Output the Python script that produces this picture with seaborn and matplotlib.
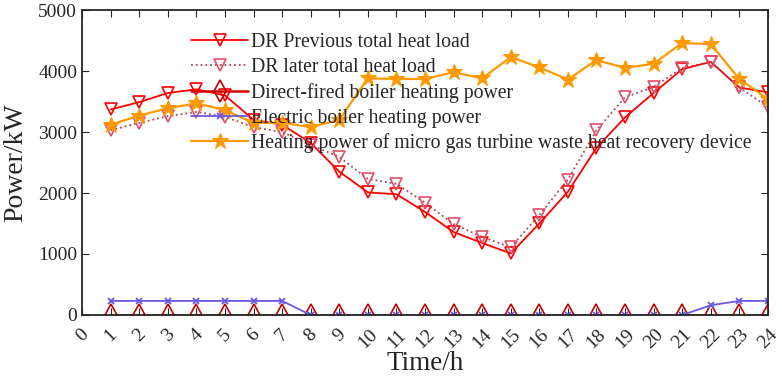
import numpy as np
import pandas as pd
import matplotlib
matplotlib.use("Agg")
import matplotlib.pyplot as plt
import seaborn as sns

# hourly values
hours = list(range(1, 25))
dr_previous = [3370, 3490, 3640, 3700, 3600, 3200, 3120, 2820, 2350, 2010, 1980, 1690,
               1360, 1180, 1010, 1500, 2020, 2740, 3240, 3640, 4030, 4150, 3730, 3650]
dr_later = [3030, 3150, 3260, 3330, 3250, 3080, 3000, 2790, 2590, 2230, 2150, 1840,
            1490, 1280, 1110, 1640, 2220, 3030, 3570, 3740, 4050, 4150, 3730, 3410]
direct_fired = [0] * 24
electric = [230, 230, 230, 230, 230, 230, 230, 0, 0, 0, 0, 0,
            0, 0, 0, 0, 0, 0, 0, 0, 0, 160, 230, 230]
mgt_recovery = [3120, 3270, 3390, 3470, 3360, 3150, 3150, 3080, 3200, 3880, 3870, 3870,
                3980, 3880, 4230, 4060, 3860, 4180, 4050, 4120, 4460, 4440, 3870, 3540]

labels = ['DR Previous total heat load',
          'DR later total heat load',
          'Direct-fired boiler heating power',
          'Electric boiler heating power',
          'Heating power of micro gas turbine waste heat recovery device']

sns.set_style("ticks")
plt.rcParams['font.family'] = ['Liberation Serif', 'DejaVu Serif']
plt.rcParams['xtick.direction'] = 'in'
plt.rcParams['ytick.direction'] = 'in'

fig = plt.figure(figsize=(7.82, 3.86), dpi=100)
ax = fig.add_axes([0.105, 0.184, 0.877, 0.79])

sns.lineplot(x=hours, y=dr_previous, ax=ax, color='#ff0000', lw=1.3, marker='v', ms=9,
             markerfacecolor='none', markeredgecolor='#ff0000', mew=1.2, label=labels[0])
sns.lineplot(x=hours, y=dr_later, ax=ax, color='#a84858', lw=1.3, linestyle=':', marker='v', ms=9,
             markerfacecolor='none', markeredgecolor='#e0506a', mew=1.2, label=labels[1])
sns.lineplot(x=hours, y=direct_fired, ax=ax, color='#d80000', lw=1.8, marker='d', ms=11,
             markerfacecolor='none', markeredgecolor='#c00000', mew=1.2, label=labels[2])
sns.lineplot(x=hours, y=electric, ax=ax, color='#6a5ae0', lw=1.3, marker='x', ms=5,
             markeredgecolor='#6a5ae0', mew=1.3, label=labels[3])
sns.lineplot(x=hours, y=mgt_recovery, ax=ax, color='#ff9900', lw=1.6, marker='*', ms=12,
             markerfacecolor='#ff9900', markeredgecolor='#ff9900', label=labels[4])

ax.set_xlim(0, 24)
ax.set_ylim(0, 5000)
ax.set_xticks(range(0, 25))
ax.set_yticks(range(0, 5001, 1000))
ax.tick_params(axis='x', labelsize=14, top=True, length=5, pad=8)
ax.tick_params(axis='y', labelsize=14, right=True, length=5)
for t in ax.get_xticklabels():
    t.set_rotation(45)
    t.set_ha('center')
ax.set_xlabel('Time/h', fontsize=19.5, labelpad=-1)
ax.set_ylabel('Power/kW', fontsize=20, labelpad=7)
for s in ax.spines.values():
    s.set_linewidth(1.3)

ax.legend(loc='upper left', bbox_to_anchor=(0.159, 0.925), frameon=False, fontsize=14.2,
          handlelength=2.9, handletextpad=0.15, labelspacing=0.3, borderaxespad=0,
          borderpad=0)

fig.savefig('out.png', dpi=100)
